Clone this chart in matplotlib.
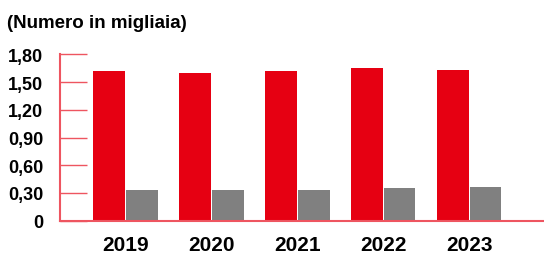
import numpy as np
import matplotlib.pyplot as plt

# --- Data ---
anni = ["2019", "2020", "2021", "2022", "2023"]
serie_rossa = [1.62, 1.60, 1.62, 1.65, 1.63]
serie_grigia = [0.335, 0.335, 0.335, 0.355, 0.365]
tick_valori = [0, 0.30, 0.60, 0.90, 1.20, 1.50, 1.80]
tick_etichette = ["0", "0,30", "0,60", "0,90", "1,20", "1,50", "1,80"]

ROSSO = "#e60012"
GRIGIO = "#808080"
ASSE = "#ee5560"
FONT = "Liberation Sans"

fig = plt.figure(figsize=(5.44, 2.55), dpi=100)
ax = fig.add_axes([60 / 544, 33.3 / 255, 1 - 60 / 544, 166.4 / 255])

x = np.arange(len(anni))
w = 0.37
ax.bar(x - w / 2 - 0.005, serie_rossa, width=w, color=ROSSO, zorder=2)
ax.bar(x + w / 2 + 0.005, serie_grigia, width=w, color=GRIGIO, zorder=2)

ax.set_xlim(-0.76, 4.87)
ax.set_ylim(0, 1.8)

ax.set_yticks(tick_valori)
ax.set_yticklabels(tick_etichette, fontsize=13, fontweight="bold", family=FONT)
ax.tick_params(axis="y", direction="in", length=19.5, width=1, color=ASSE, pad=12)

ax.set_xticks(x)
ax.set_xticklabels(anni, fontsize=15, fontweight="bold", family=FONT)
ax.tick_params(axis="x", length=0, pad=10)

for s in ["top", "right"]:
    ax.spines[s].set_visible(False)
for s in ["left", "bottom"]:
    ax.spines[s].set_color(ASSE)
    ax.spines[s].set_linewidth(1.5)
    ax.spines[s].set_zorder(5)

fig.text(7 / 544, 1 - 28 / 255, "(Numero in migliaia)", fontsize=13.5,
         fontweight="bold", family=FONT, va="baseline", ha="left")

fig.savefig("out.png", dpi=100)
